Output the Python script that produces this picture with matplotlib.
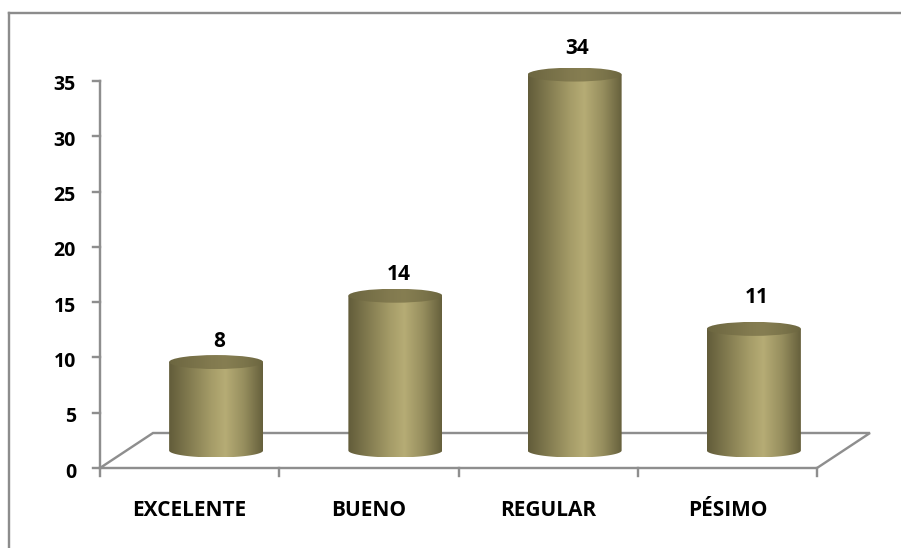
import numpy as np
import matplotlib.pyplot as plt
from matplotlib.patches import Ellipse, Polygon
from matplotlib.lines import Line2D

categories = ["EXCELENTE", "BUENO", "REGULAR", "PÉSIMO"]
values = [8, 14, 34, 11]
y_ticks = [0, 5, 10, 15, 20, 25, 30, 35]
y_max = 35

plt.rcParams['font.family'] = ['Open Sans', 'DejaVu Sans']

W, H = 901, 548
fig = plt.figure(figsize=(W / 100, H / 100), dpi=100)
ax = fig.add_axes([0, 0, 1, 1])
ax.axis('off')

# front floor edge and value scale, in pixels
x0_px, x1_px = 100, 817
y0_px, ytop_px = 468, 81
sx = (x1_px - x0_px) / len(categories)
sy = (y0_px - ytop_px) / y_max
ax.set_xlim(-x0_px / sx, (W - x0_px) / sx)
ax.set_ylim((y0_px - H) / sy, y0_px / sy)

PX = 0.72  # points per pixel
line_col = '#8e8e8e'
lw = 2.4 * PX
txt = dict(fontweight='bold', color='black')

# depth of the 3-D floor
ddx = 53 / sx
ddy = 35 / sy
n = len(categories)

# floor outline and axes
ax.plot([0, n, n + ddx, ddx, 0], [0, 0, ddy, ddy, 0], color=line_col, lw=lw,
        solid_joinstyle='miter', zorder=1)
ax.plot([0, 0], [0, y_max], color=line_col, lw=lw, zorder=1)
for t in y_ticks:
    ax.plot([-7 / sx, 0], [t, t], color=line_col, lw=lw, zorder=1)
    ax.annotate(str(t), xy=(0, t), xytext=(-24 * PX, -9.5 * PX),
                textcoords='offset points', ha='right', va='baseline',
                fontsize=14, **txt)
for i in range(n + 1):
    ax.plot([i, i], [0, -8 / sy], color=line_col, lw=lw, zorder=1)
for i, c in enumerate(categories):
    ax.annotate(c, xy=(i + 0.5, 0), xytext=(0, -48 * PX),
                textcoords='offset points', ha='center', va='baseline',
                fontsize=15, **txt)

# cylinder shading across the width
stops = [0.0, 0.2, 0.45, 0.6, 0.8, 1.0]
body_cols = np.array([[98, 92, 58], [128, 121, 78], [165, 156, 104],
                      [182, 172, 117], [150, 142, 94], [102, 96, 60]]) / 255
top_cols = np.array([[108, 102, 64], [118, 111, 71], [130, 122, 79],
                     [134, 126, 82], [124, 117, 75], [108, 102, 64]]) / 255
u = np.linspace(0, 1, 256)


def gradient(cols):
    return np.stack([np.interp(u, stops, cols[:, k]) for k in range(3)], axis=-1)[None, :, :]


body_grad = gradient(body_cols)
top_grad = gradient(top_cols)

w = 94 / sx
eh = 14 / sy
label_gap_px = [8, 9, 14, 19]
theta = np.linspace(np.pi, 2 * np.pi, 80)

for i, v in enumerate(values):
    cx = i + 0.5 + ddx / 2
    yb = ddy / 2
    yt = v + ddy / 2
    outline = [(cx - w / 2, yt)]
    outline += list(zip(cx + w / 2 * np.cos(theta), yb + eh / 2 * np.sin(theta)))
    outline += [(cx + w / 2, yt)]
    body = Polygon(outline, closed=True, facecolor='none', edgecolor='none')
    ax.add_patch(body)
    im = ax.imshow(body_grad, extent=(cx - w / 2, cx + w / 2, yb - eh / 2, yt),
                   aspect='auto', zorder=3, interpolation='bilinear')
    im.set_clip_path(body)

    cap = Ellipse((cx, yt), w, eh, facecolor='none', edgecolor='none')
    ax.add_patch(cap)
    imc = ax.imshow(top_grad, extent=(cx - w / 2, cx + w / 2, yt - eh / 2, yt + eh / 2),
                    aspect='auto', zorder=4, interpolation='bilinear')
    imc.set_clip_path(cap)

    ax.annotate(str(v), xy=(cx, yt), xytext=(3 * PX, (7 + label_gap_px[i]) * PX),
                textcoords='offset points', ha='center', va='baseline',
                fontsize=15, **txt)

# chart frame (left and top edges)
fig.add_artist(Line2D([8.5 / W, 8.5 / W], [0, 1 - 12.5 / H], color='#8c8c8c', lw=lw))
fig.add_artist(Line2D([8.5 / W, 1], [1 - 12.5 / H, 1 - 12.5 / H], color='#8c8c8c', lw=lw))

fig.savefig('out.png', dpi=100)
